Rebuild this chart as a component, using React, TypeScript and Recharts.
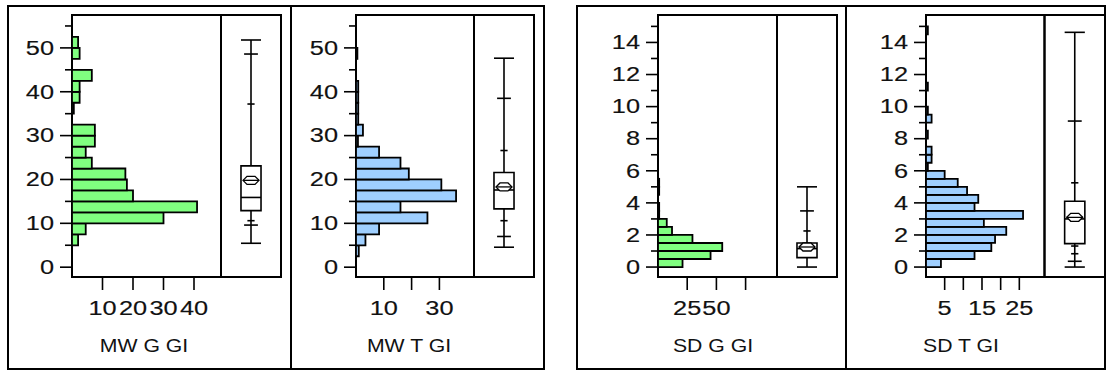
import React from "react";
import {
  ComposedChart,
  Bar,
  Scatter,
  XAxis,
  YAxis,
  ReferenceArea,
  ReferenceLine,
} from "recharts";

const WIDTH = 1106;
const HEIGHT = 370;
const PLOT_TOP = 15;
const PLOT_BOTTOM = 277;
const FONT = "'Liberation Sans', Arial, sans-serif";
// the source picture is stretched sideways, so text is too
const STRETCH = 1.3;

// MW G GI
const MWG_BINS = [5, 7.5, 10, 12.5, 15, 17.5, 20, 22.5, 25, 27.5, 30, 32.5, 35, 37.5, 40, 42.5, 45, 47.5, 50];
const MWG_COUNTS = [2, 4.5, 30, 41, 20, 18, 17.5, 6.5, 4.5, 7.5, 7.5, 0, 0.6, 2.5, 2.5, 6.5, 0, 2.5, 2];
const MWG_WHISKERS = [5.45, 51.8];
const MWG_QUARTILES = [12.9, 15.9, 23.1];
const MWG_MEAN = 19.8;
const MWG_OUTER_MARKS = [9.6, 48.6];
const MWG_INNER_MARKS = [10.6, 37.2];

// MW T GI
const MWT_BINS = [2.5, 5, 7.5, 10, 12.5, 15, 17.5, 20, 22.5, 25, 27.5, 30, 32.5, 35, 37.5, 40, 42.5, 45, 47.5];
const MWT_COUNTS = [1, 3.4, 8.3, 25.7, 16, 36, 30.7, 19, 16, 8.3, 0.7, 2.5, 0.8, 0.8, 0.8, 0.8, 0, 0, 0.5];
const MWT_WHISKERS = [4.55, 47.65];
const MWT_QUARTILES = [13.3, 17.6, 21.6];
const MWT_MEAN = 18.3;
const MWT_OUTER_MARKS = [7.0, 38.5];
const MWT_INNER_MARKS = [10.6, 26.6];

// SD G GI
const SDG_BINS = [0, 0.5, 1, 1.5, 2, 2.5, 3, 3.5, 4, 4.5, 5];
const SDG_COUNTS = [21, 45, 55, 29.5, 12, 7.5, 1, 1, 0, 1, 1];
const SDG_WHISKERS = [0, 5.0];
const SDG_QUARTILES = [0.59, 1.15, 1.5];
const SDG_MEAN = 1.25;
const SDG_OUTER_MARKS = [3.5];
const SDG_INNER_MARKS = [2.25];

// SD T GI
const SDT_BINS = [0, 0.5, 1, 1.5, 2, 2.5, 3, 3.5, 4, 4.5, 5, 5.5, 6, 6.5, 7, 7.5, 8, 8.5, 9, 9.5, 10, 10.5, 11, 11.5, 12, 12.5, 13, 13.5, 14, 14.5];
const SDT_COUNTS = [4, 13, 17.5, 18.5, 21.5, 15.5, 26, 13, 14, 11, 8.5, 5, 0.5, 1.5, 1.5, 0, 0.5, 0, 1.5, 0.5, 0, 0, 0.5, 0, 0, 0, 0, 0, 0, 0.5];
const SDT_WHISKERS = [0, 14.63];
const SDT_QUARTILES = [1.46, 3.0, 4.1];
const SDT_MEAN = 3.1;
const SDT_OUTER_MARKS = [0.36, 9.1];
const SDT_INNER_MARKS = [0.83, 1.31, 5.25];

const MW_Y_DOMAIN = [-2.24, 57.5];
const MW_Y_TICKS = [0, 5, 10, 15, 20, 25, 30, 35, 40, 45, 50, 55];
const SD_Y_DOMAIN = [-0.62, 15.71];
const SD_Y_TICKS = [0, 1, 2, 3, 4, 5, 6, 7, 8, 9, 10, 11, 12, 13, 14, 15];

const GREEN = "#80FF80";
const BLUE = "#9FCFFF";

function toBins(starts: number[], counts: number[], width: number) {
  return starts.map((s, i) => ({ mid: s + width / 2, count: counts[i] }));
}

const textStyle = {
  fontFamily: FONT,
  fill: "#111",
  stroke: "#111",
  strokeWidth: 0.15,
};

function YTick(props: any) {
  const { x, y, payload, major } = props;
  const v = payload.value;
  const isMajor = Math.abs(v % major) < 1e-6;
  const len = isMajor ? 12 : 7;
  return (
    <g>
      <line x1={x - len} y1={y} x2={x} y2={y} stroke="#000" strokeWidth={1.6} />
      {isMajor && (
        <text
          transform={`translate(${x - len - 6},${y + 6.8}) scale(${STRETCH},1)`}
          textAnchor="end"
          fontSize={19.5}
          {...textStyle}
        >
          {v}
        </text>
      )}
    </g>
  );
}

function XTick(props: any) {
  const { x, y, payload, labels } = props;
  const v = payload.value;
  return (
    <g>
      <line x1={x} y1={y} x2={x} y2={y + 13} stroke="#000" strokeWidth={1.6} />
      {labels.includes(v) && (
        <text
          transform={`translate(${x},${y + 38}) scale(${STRETCH},1)`}
          textAnchor="middle"
          fontSize={19.5}
          {...textStyle}
        >
          {v}
        </text>
      )}
    </g>
  );
}

function AxisTitle(props: any) {
  const { text, titleX } = props;
  return (
    <text
      transform={`translate(${titleX},${352}) scale(1.18,1)`}
      textAnchor="middle"
      fontSize={18}
      fontFamily={FONT}
      fill="#111"
    >
      {text}
    </text>
  );
}

function MeanDiamond(props: any) {
  const { cx, cy } = props;
  const pts = [
    [cx - 8, cy],
    [cx - 4, cy - 4],
    [cx + 4, cy - 4],
    [cx + 8, cy],
    [cx + 4, cy + 4],
    [cx - 4, cy + 4],
  ]
    .map((p) => p.join(","))
    .join(" ");
  return (
    <g>
      <polygon points={pts} fill="#fff" stroke="#000" strokeWidth={1.3} />
      <line x1={cx - 8} y1={cy} x2={cx + 8} y2={cy} stroke="#000" strokeWidth={1.3} />
    </g>
  );
}

function seg(x1: number, x2: number, y: number) {
  return [
    { x: x1, y },
    { x: x2, y },
  ];
}

function Panel(props: any) {
  const {
    bins,
    color,
    left,
    divider,
    right,
    xMax,
    yDomain,
    yTicks,
    yMajor,
    xTicks,
    xLabels,
    title,
    titleX,
    whiskers,
    quartiles,
    mean,
    outerMarks,
    innerMarks,
  } = props;
  const layer = { position: "absolute" as const, left: 0, top: 0 };
  const [lo, hi] = whiskers;
  const [q1, med, q3] = quartiles;
  return (
    <>
      <div style={layer}>
        <ComposedChart
          width={WIDTH}
          height={HEIGHT}
          layout="vertical"
          data={bins}
          barCategoryGap={0}
          barGap={0}
          margin={{ top: PLOT_TOP, bottom: HEIGHT - PLOT_BOTTOM - 30, left: left - 60, right: WIDTH - divider }}
        >
          <XAxis
            type="number"
            domain={[0, xMax]}
            ticks={xTicks}
            interval={0}
            allowDataOverflow
            axisLine={false}
            tickLine={false}
            tickSize={0}
            tickMargin={0}
            height={30}
            tick={(p: any) => <XTick {...p} labels={xLabels} />}
            label={<AxisTitle text={title} titleX={titleX} />}
          />
          <YAxis
            type="number"
            dataKey="mid"
            domain={yDomain}
            ticks={yTicks}
            interval={0}
            reversed
            allowDataOverflow
            axisLine={false}
            tickLine={false}
            tickSize={0}
            tickMargin={0}
            width={60}
            tick={(p: any) => <YTick {...p} major={yMajor} />}
          />
          <Bar dataKey="count" fill={color} stroke="#000" strokeWidth={1.8} isAnimationActive={false} />
          <ReferenceArea
            x1={0}
            x2={xMax}
            y1={yDomain[0]}
            y2={yDomain[1]}
            fill="none"
            stroke="#000"
            strokeWidth={2}
          />
        </ComposedChart>
      </div>
      <div style={layer}>
        <ComposedChart
          width={WIDTH}
          height={HEIGHT}
          margin={{ top: PLOT_TOP, bottom: HEIGHT - PLOT_BOTTOM, left: divider, right: WIDTH - right }}
        >
          <XAxis type="number" dataKey="x" domain={[0, 1]} hide />
          <YAxis type="number" dataKey="y" domain={yDomain} allowDataOverflow hide />
          <ReferenceLine segment={[{ x: 0.5, y: lo }, { x: 0.5, y: q1 }]} stroke="#000" strokeWidth={1.6} />
          <ReferenceLine segment={[{ x: 0.5, y: q3 }, { x: 0.5, y: hi }]} stroke="#000" strokeWidth={1.6} />
          <ReferenceArea x1={0.333} x2={0.667} y1={q1} y2={q3} fill="#fff" fillOpacity={1} stroke="#000" strokeWidth={1.6} />
          <ReferenceLine segment={seg(0.333, 0.667, med)} stroke="#000" strokeWidth={1.6} />
          {whiskers.map((v: number) => (
            <ReferenceLine key={`w${v}`} segment={seg(0.333, 0.667, v)} stroke="#000" strokeWidth={1.6} />
          ))}
          {outerMarks.map((v: number) => (
            <ReferenceLine key={`o${v}`} segment={seg(0.385, 0.615, v)} stroke="#000" strokeWidth={1.6} />
          ))}
          {innerMarks.map((v: number) => (
            <ReferenceLine key={`i${v}`} segment={seg(0.44, 0.56, v)} stroke="#000" strokeWidth={1.6} />
          ))}
          <Scatter
            data={[{ x: 0.5, y: mean }]}
            dataKey="y"
            shape={(p: any) => <MeanDiamond cx={p.cx} cy={p.cy} />}
            isAnimationActive={false}
          />
          <ReferenceArea x1={0} x2={1} y1={yDomain[0]} y2={yDomain[1]} fill="none" stroke="#000" strokeWidth={2} />
        </ComposedChart>
      </div>
    </>
  );
}

export default function App() {
  const frame = (l: number, w: number) => ({
    position: "absolute" as const,
    left: l,
    top: 5,
    width: w,
    height: 365,
    border: "2px solid #000",
    boxSizing: "border-box" as const,
  });
  const divider = (l: number) => ({
    position: "absolute" as const,
    left: l,
    top: 5,
    width: 2,
    height: 365,
    background: "#000",
  });
  return (
    <div style={{ position: "absolute", left: 0, top: 0, width: WIDTH, height: HEIGHT, background: "#fff", overflow: "hidden" }}>
      <div style={frame(7, 538)} />
      <div style={divider(290)} />
      <div style={frame(576, 530)} />
      <div style={divider(845)} />

      <Panel
        bins={toBins(MWG_BINS, MWG_COUNTS, 2.5)}
        color={GREEN}
        left={72}
        divider={221}
        right={281}
        xMax={149 / 3.05}
        yDomain={MW_Y_DOMAIN}
        yTicks={MW_Y_TICKS}
        yMajor={10}
        xTicks={[10, 20, 30, 40]}
        xLabels={[10, 20, 30, 40]}
        title="MW G GI"
        titleX={144}
        whiskers={MWG_WHISKERS}
        quartiles={MWG_QUARTILES}
        mean={MWG_MEAN}
        outerMarks={MWG_OUTER_MARKS}
        innerMarks={MWG_INNER_MARKS}
      />
      <Panel
        bins={toBins(MWT_BINS, MWT_COUNTS, 2.5)}
        color={BLUE}
        left={356}
        divider={474}
        right={534}
        xMax={118 / 2.78}
        yDomain={MW_Y_DOMAIN}
        yTicks={MW_Y_TICKS}
        yMajor={10}
        xTicks={[10, 20, 30]}
        xLabels={[10, 30]}
        title="MW T GI"
        titleX={409}
        whiskers={MWT_WHISKERS}
        quartiles={MWT_QUARTILES}
        mean={MWT_MEAN}
        outerMarks={MWT_OUTER_MARKS}
        innerMarks={MWT_INNER_MARKS}
      />
      <Panel
        bins={toBins(SDG_BINS, SDG_COUNTS, 0.5)}
        color={GREEN}
        left={658}
        divider={777}
        right={837}
        xMax={119 / 1.168}
        yDomain={SD_Y_DOMAIN}
        yTicks={SD_Y_TICKS}
        yMajor={2}
        xTicks={[25, 50, 75]}
        xLabels={[25, 50]}
        title="SD G GI"
        titleX={713}
        whiskers={SDG_WHISKERS}
        quartiles={SDG_QUARTILES}
        mean={SDG_MEAN}
        outerMarks={SDG_OUTER_MARKS}
        innerMarks={SDG_INNER_MARKS}
      />
      <Panel
        bins={toBins(SDT_BINS, SDT_COUNTS, 0.5)}
        color={BLUE}
        left={926}
        divider={1044.5}
        right={1105}
        xMax={118.5 / 3.733}
        yDomain={SD_Y_DOMAIN}
        yTicks={SD_Y_TICKS}
        yMajor={2}
        xTicks={[5, 10, 15, 20, 25]}
        xLabels={[5, 15, 25]}
        title="SD T GI"
        titleX={961}
        whiskers={SDT_WHISKERS}
        quartiles={SDT_QUARTILES}
        mean={SDT_MEAN}
        outerMarks={SDT_OUTER_MARKS}
        innerMarks={SDT_INNER_MARKS}
      />
    </div>
  );
}
